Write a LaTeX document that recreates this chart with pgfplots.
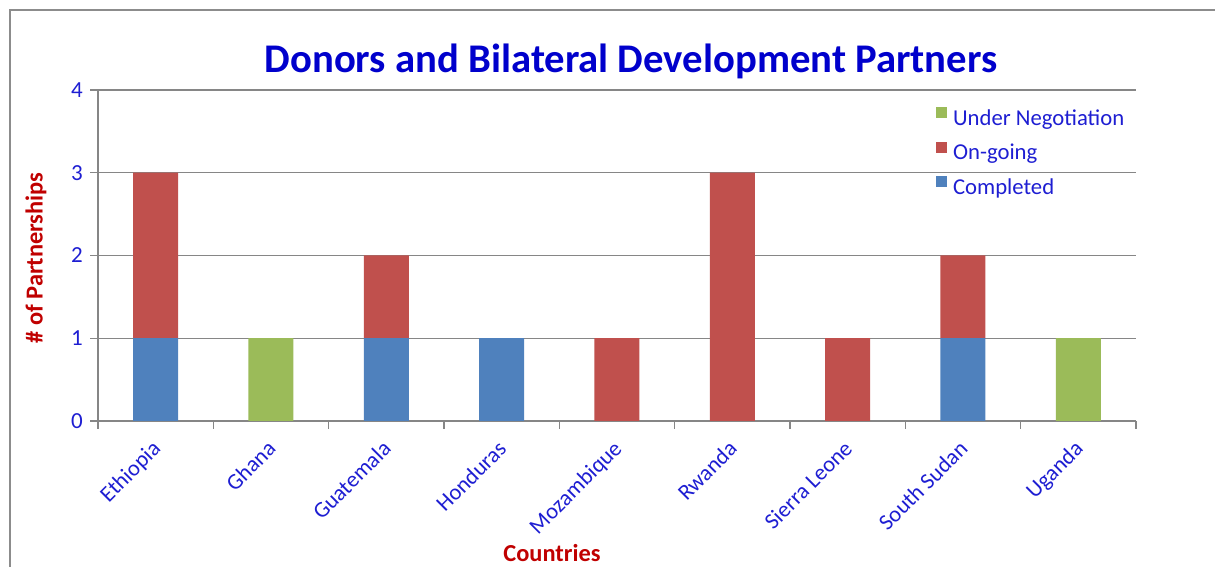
\documentclass[border=0pt]{standalone}
\usepackage{fontspec}
\setmainfont{Carlito}
\usepackage{pgfplots}
\pgfplotsset{compat=1.18}

\definecolor{ttl}{RGB}{0,0,204}
\definecolor{txt}{RGB}{30,30,210}
\definecolor{lbl}{RGB}{192,0,0}
\definecolor{gridc}{RGB}{134,134,134}
\definecolor{frm}{RGB}{140,140,140}
\definecolor{cblue}{RGB}{79,129,189}
\definecolor{cred}{RGB}{192,80,77}
\definecolor{cgreen}{RGB}{155,187,89}

\begin{document}
\begin{tikzpicture}
\useasboundingbox (0pt,0pt) rectangle (1215pt,567pt);
\draw[frm, line width=2pt] (10pt,-2pt) -- (10pt,557pt) -- (1217pt,557pt);
\node[anchor=base, text=ttl, font=\fontsize{40.7}{46}\selectfont\bfseries]
  at (631pt,494pt) {Donors and Bilateral Development Partners};

\begin{axis}[
    at={(98pt,146pt)}, anchor=south west,
    scale only axis, width=1038pt, height=331pt,
    ybar stacked, bar width=45pt,
    xmin=-0.5, xmax=8.5, ymin=0, ymax=4,
    axis x line*=bottom, axis y line*=left,
    axis line style={gridc, line width=1.3pt},
    xtick={0,...,8},
    xticklabels={Ethiopia,Ghana,Guatemala,Honduras,Mozambique,Rwanda,Sierra Leone,South Sudan,Uganda},
    major x tick style={draw=none},
    minor xtick={-0.5,0.5,...,8.5},
    minor x tick style={gridc, line width=1.3pt},
    minor tick length=8pt,
    ytick={0,1,2,3,4},
    major tick length=8pt,
    y tick style={gridc, line width=1.3pt},
    tick align=outside,
    ymajorgrids, grid style={gridc, line width=1.3pt},
    /pgf/number format/assume math mode=true,
    yticklabel style={text=txt, font=\fontsize{23}{27}\selectfont, inner sep=0pt, xshift=-7pt},
    xticklabel style={text=txt, font=\fontsize{22.5}{26}\selectfont, inner sep=0pt,
      yshift=-10pt, xshift=-5pt, anchor=north east, rotate=45},
    xlabel={Countries},
    xlabel style={at={(rel axis cs:0.4374,-0.3988)}, anchor=center,
      text=lbl, font=\fontsize{24.4}{28}\selectfont\bfseries},
    ylabel={\# of Partnerships},
    ylabel style={at={(rel axis cs:-0.0597,0.4924)}, anchor=center,
      text=lbl, font=\fontsize{24.4}{28}\selectfont\bfseries},
    reverse legend,
    legend cell align=left,
    legend image code/.code={\fill[#1] (0pt,2pt) rectangle (11pt,13pt);},
    legend style={at={(rel axis cs:0.8073,0.9486)}, anchor=north west,
      draw=none, fill=none, inner sep=0pt, row sep=11.5pt,
      font=\fontsize{22.7}{26}\selectfont, text=txt,
      nodes={inner sep=0pt, text height=15pt, text depth=5pt},
      /tikz/every odd column/.append style={column sep=6pt}},
]
\addplot[fill=cblue, draw=none] coordinates {
  (0,1) (1,0) (2,1) (3,1) (4,0) (5,0) (6,0) (7,1) (8,0)};
\addlegendentry{Completed}
\addplot[fill=cred, draw=none] coordinates {
  (0,2) (1,0) (2,1) (3,0) (4,1) (5,3) (6,1) (7,1) (8,0)};
\addlegendentry{On-going}
\addplot[fill=cgreen, draw=none] coordinates {
  (0,0) (1,1) (2,0) (3,0) (4,0) (5,0) (6,0) (7,0) (8,1)};
\addlegendentry{Under Negotiation}
\end{axis}
\end{tikzpicture}
\end{document}
